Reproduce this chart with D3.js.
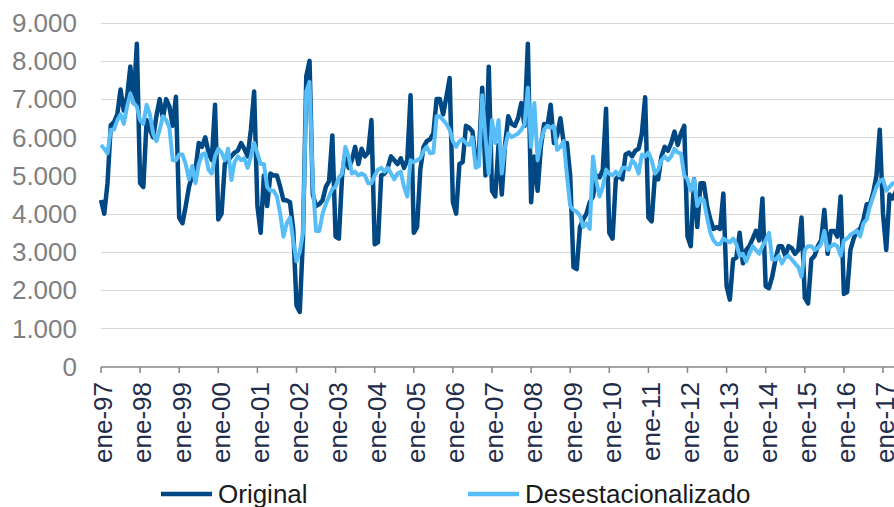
<html>
<head>
<script src="https://d3js.org/d3.v7.min.js"></script>
<style>
  body { margin: 0; background: #fff; }
  text { font-family: "Liberation Sans", Arial, sans-serif; }
</style>
</head>
<body>
<svg width="894" height="507"></svg>
<script>
// monthly series, ene-97 onwards
const original = [
  4360, 4000, 4800, 6320, 6400, 6600, 7250, 6700, 7050, 7850, 6900, 8450,
  4800, 4700, 6450, 6200, 6000, 6550, 7000, 6500, 7000, 6800, 6300, 7060,
  3900, 3750, 4200, 4700, 5000, 5150, 5850, 5750, 6000, 5600, 5400, 6850,
  3850, 4000, 5300, 5400, 5500, 5600, 5650, 5850, 5700, 5500, 6200, 7200,
  4200, 3500, 5000, 4200, 5050, 5000, 5000, 4700, 4350, 4350, 4300, 3600,
  1600, 1430, 3400, 7600, 8000, 4500, 4200, 4250, 4350, 4700, 4850, 6050,
  3400, 3350, 5000, 5600, 5200, 5400, 5750, 5300, 5700, 5500, 5600, 6450,
  3200, 3250, 5000, 5050, 5200, 5500, 5400, 5300, 5450, 5200, 5400, 7100,
  3500, 3650, 5150, 5750, 5900, 5950, 6100, 7000, 7000, 6600, 7050, 7550,
  4300, 4000, 5300, 5350, 6300, 6250, 6150, 5400, 5600, 7300, 5000, 7850,
  4600, 4450, 5800, 4500, 5800, 6550, 6350, 6300, 6500, 6900, 6300, 8450,
  4300, 5500, 4600, 5750, 6350, 6300, 6850, 5850, 6050, 6500, 5850, 5850,
  5000, 2600, 2550, 3650, 3850, 4000, 4300, 4450, 5000, 4950, 5150, 6750,
  3500, 3350, 4900, 5000, 4900, 5550, 5600, 5500, 5650, 5700, 6100, 7050,
  3900, 3800, 5000, 4900, 5500, 5750, 5650, 5850, 6150, 5800, 6100, 6300,
  3400, 3150, 4900, 3650, 4800, 4800, 4200, 3850, 3600, 3650, 3600, 4530,
  2100, 1750, 2800, 2850, 3500, 2700, 3050, 3150, 3350, 3550, 3300, 4400,
  2100, 2050, 2350, 2800, 3150, 3150, 2900, 3150, 3100, 2950, 3050, 3900,
  1800, 1650, 2800, 2900, 3150, 3300, 4100, 2950, 3550, 3550, 3400, 4450,
  1900, 1950, 3050, 3350, 3550, 3600, 3850, 4250, 4250, 4550, 5000, 6200,
  4000, 3050, 4500, 4400, 4600
];
const desestacionalizado = [
  5800, 5700, 5580, 6200, 6200, 6450, 6600, 6350, 6800, 7150, 6900, 6800,
  6450, 6350, 6850, 6600, 6100, 5900, 6200, 6550, 6450, 6250, 5400, 5400,
  5550, 5550, 5300, 4900, 5250, 4800, 5300, 5550, 5580, 5150, 5050, 5500,
  5700, 5600, 5400, 5700, 4880, 5350, 5500, 5400, 5450, 5200, 5500, 5850,
  5580, 5300, 5300, 4700, 4600, 4600, 4450, 4000, 3400, 3750, 3900, 3300,
  2750, 3000, 3500, 7200, 7450, 4800, 3550, 3550, 4000, 4250, 4450, 4650,
  4700, 4950, 5050, 5750, 5500, 5050, 5100, 5000, 5050, 5000, 4800, 4800,
  5000, 5150, 5200, 5100, 5200, 5050, 4900, 5050, 5100, 4700, 4450, 5400,
  5350, 5400, 5450, 5650, 5750, 5580, 5600, 6550, 6550, 6450, 6350, 6200,
  5900, 5750, 5900, 5950, 5850, 5800, 6000, 5200, 5250, 7100, 6000, 5050,
  6450, 5850, 6450, 5050, 5750, 6100, 6000, 6050, 6100, 6200, 6350, 7300,
  5750, 6900, 5400, 5900, 6200, 6300, 6250, 6300, 5670, 5750, 5900, 5000,
  4200, 4100, 4050, 3950, 3650, 3750, 3600, 5500, 4850, 4450, 4700, 5150,
  5050, 5000, 5100, 5000, 5200, 5200, 5150, 5400, 5300, 5050, 5550, 5500,
  5600, 5400, 5050, 5150, 5400, 5500, 5400, 5500, 5700, 5600, 5580, 5000,
  4900, 4600, 4900, 4200, 4400, 4350, 3900, 3500, 3300, 3200, 3200, 3350,
  3300, 3250, 3350, 3200, 2900, 2950, 2750, 2950, 3150, 3050, 2950, 3150,
  3300, 3500, 2800, 2800, 2900, 2700, 2850, 2900, 2800, 2700, 2600, 2350,
  3050, 3150, 3150, 3050, 3100, 3200, 3550, 3050, 3150, 3200, 3150, 2900,
  3300, 3350, 3450, 3500, 3550, 3400, 3750, 3850, 4200, 4450, 4700, 4850,
  4900, 4600, 4700, 4800, 4800
];
const yTicks = [0, 1000, 2000, 3000, 4000, 5000, 6000, 7000, 8000, 9000];
const yearLabels = ['ene-97', 'ene-98', 'ene-99', 'ene-00', 'ene-01', 'ene-02', 'ene-03',
  'ene-04', 'ene-05', 'ene-06', 'ene-07', 'ene-08', 'ene-09', 'ene-10', 'ene-11',
  'ene-12', 'ene-13', 'ene-14', 'ene-15', 'ene-16', 'ene-17'];
const seriesNames = ['Original', 'Desestacionalizado'];
const seriesColors = ['#004884', '#57BDF7'];

const svg = d3.select('svg');
const W = 894;

const x = d3.scaleLinear().domain([0, 240]).range([101, 883]);
const y = d3.scaleLinear().domain([0, 9000]).range([366.5, 22.7]);

const locale = d3.formatLocale({decimal: ',', thousands: '.', grouping: [3], currency: ['', '€']});
const fmt = locale.format(',d');

// gridlines
svg.append('g').selectAll('line').data(yTicks.slice(1)).enter().append('line')
  .attr('x1', 101).attr('x2', W)
  .attr('y1', d => Math.round(y(d)) + 0.5).attr('y2', d => Math.round(y(d)) + 0.5)
  .attr('stroke', '#d9d9d9').attr('stroke-width', 1);

// y labels
svg.append('g').selectAll('text').data(yTicks).enter().append('text')
  .attr('x', 77).attr('y', d => y(d)).attr('dy', '0.36em')
  .attr('text-anchor', 'end').attr('font-size', 26).attr('fill', '#7f7f7f')
  .text(d => fmt(d));

// x axis
const xAxis = svg.append('g');
xAxis.append('line').attr('x1', 101).attr('x2', W).attr('y1', 367).attr('y2', 367)
  .attr('stroke', '#868686').attr('stroke-width', 1.5);
xAxis.selectAll('line.tk').data(yearLabels).enter().append('line').attr('class', 'tk')
  .attr('x1', (d, i) => x(i * 12)).attr('x2', (d, i) => x(i * 12))
  .attr('y1', 367).attr('y2', 373)
  .attr('stroke', '#868686').attr('stroke-width', 1.5);
xAxis.selectAll('text').data(yearLabels).enter().append('text')
  .attr('transform', (d, i) => `translate(${x(i * 12) + 2},382) rotate(-90)`)
  .attr('dy', '0.36em').attr('text-anchor', 'end')
  .attr('font-size', 26).attr('fill', '#1f2d4a')
  .text(d => d);

// lines
const line = d3.line().x((d, i) => x(i)).y(d => y(d));
[original, desestacionalizado].forEach((s, k) => {
  svg.append('path').datum(s)
    .attr('d', line)
    .attr('fill', 'none')
    .attr('stroke', seriesColors[k])
    .attr('stroke-width', k === 0 ? 4.5 : 4)
    .attr('stroke-linejoin', 'round');
});

// legend
const legX = [161, 468];
const leg = svg.append('g').selectAll('g').data(seriesNames).enter().append('g')
  .attr('transform', (d, i) => `translate(${legX[i]},494)`);
leg.append('line').attr('x1', 0).attr('x2', 51).attr('y1', 0).attr('y2', 0)
  .attr('stroke', (d, i) => seriesColors[i]).attr('stroke-width', 4.5);
leg.append('text').attr('x', 57).attr('dy', '0.36em')
  .attr('font-size', 26).attr('fill', '#1a1a1a')
  .text(d => d);
</script>
</body>
</html>
